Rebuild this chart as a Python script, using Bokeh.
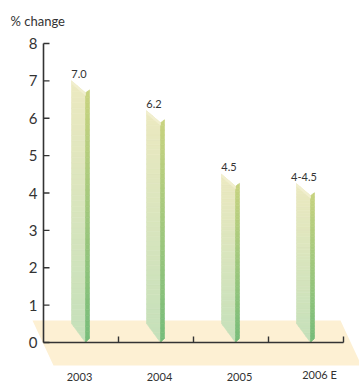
import numpy as np
from bokeh.plotting import figure
from bokeh.models import ColumnDataSource
from bokeh.core.properties import value
from bokeh.embed import file_html
from bokeh.resources import INLINE

# ---------------- data ----------------
years = ["2003", "2004", "2005", "2006 E"]
growth = [7.0, 6.2, 4.5, 4.25]
value_labels = ["7.0", "6.2", "4.5", "4-4.5"]
y_ticks = [0, 1, 2, 3, 4, 5, 6, 7, 8]
y_title = "% change"

# ---------------- layout / style ----------------
W, H = 359, 382
AX_X, AX_Y = 43.0, 342.0      # pixel position of the axes origin
PX_X, PX_Y = 75.0, 37.375     # pixels per category / per unit
FONT = "Lato"
TXT = "#333333"

x_range = (-AX_X / PX_X, (W - AX_X) / PX_X)
y_range = (-(H - AX_Y) / PX_Y, AX_Y / PX_Y)

def dx(px):
    return px / PX_X

def dy(px):
    return px / PX_Y

p = figure(width=W, height=H, x_range=x_range, y_range=y_range,
           x_axis_location=None, y_axis_location=None,
           toolbar_location=None, output_backend="svg", min_border=0)
p.grid.visible = False
p.outline_line_color = None
p.background_fill_color = "white"
p.border_fill_color = "white"

n = len(years)

# floor (perspective plane under the bars)
floor_x = [-dx(11), n - dx(3), n + dx(18), dx(10)]
floor_y = [dy(22), dy(22), -dy(23), -dy(23)]
p.patch(floor_x, floor_y, fill_color="#fdf0d3", line_color=None)


def clip(poly, lo, hi):
    def clip_half(pts, keep, inter):
        out = []
        m = len(pts)
        for k in range(m):
            a = pts[k]
            b = pts[(k + 1) % m]
            ka, kb = keep(a), keep(b)
            if ka:
                out.append(a)
            if ka != kb:
                out.append(inter(a, b))
        return out

    def ix(a, b, yy):
        t = (yy - a[1]) / (b[1] - a[1])
        return (a[0] + t * (b[0] - a[0]), yy)

    pts = clip_half(poly, lambda q: q[1] >= lo, lambda a, b: ix(a, b, lo))
    if not pts:
        return pts
    pts = clip_half(pts, lambda q: q[1] <= hi, lambda a, b: ix(a, b, hi))
    return pts


def mix(c0, c1, t):
    t = min(max(t, 0.0), 1.0)
    r = [int(round(c0[i] + (c1[i] - c0[i]) * t)) for i in range(3)]
    return "#%02x%02x%02x" % tuple(r)


LIGHT_BOT, LIGHT_TOP = (196, 224, 186), (236, 233, 192)
DARK_BOT, DARK_TOP = (118, 188, 122), (204, 212, 128)

xs, ys, cols = [], [], []
NS = 48
for i, v in enumerate(growth):
    c = i + 0.5
    L, M, R = c - dx(9.5), c + dx(4.5), c + dx(8.5)
    light = [(L, v), (M, v - dy(12)), (M, 0.0), (L, dy(19))]
    dark = [(M, v - dy(12)), (R, v - dy(9)), (R, dy(4)), (M, 0.0)]
    for poly, cb, ct in ((light, LIGHT_BOT, LIGHT_TOP), (dark, DARK_BOT, DARK_TOP)):
        for k in range(NS):
            lo = v * k / NS
            hi = v * (k + 1) / NS
            pc = clip(poly, lo, hi)
            if len(pc) < 3:
                continue
            xs.append([q[0] for q in pc])
            ys.append([q[1] for q in pc])
            cols.append(mix(cb, ct, (lo + hi) / 2 / v))
    # thin lighter top edge
    xs.append([L, M, M, L])
    ys.append([v, v - dy(12), v - dy(14.5), v - dy(2.5)])
    cols.append("#f1efcf")

src = ColumnDataSource(dict(xs=xs, ys=ys, c=cols))
p.patches("xs", "ys", source=src, fill_color="c", line_color="c", line_width=0.6)

# axes lines and ticks
p.segment(x0=[0.0], y0=[0.0], x1=[0.0], y1=[max(y_ticks)], line_color=TXT, line_width=1.6)
p.segment(x0=[0.0], y0=[0.0], x1=[float(n)], y1=[0.0], line_color=TXT, line_width=1.6)
p.segment(x0=[0.0] * len(y_ticks), y0=y_ticks, x1=[dx(6)] * len(y_ticks), y1=y_ticks,
          line_color=TXT, line_width=1.4)
xt = [float(k) for k in range(1, n + 1)]
p.segment(x0=xt, y0=[0.0] * n, x1=xt, y1=[dy(6)] * n, line_color=TXT, line_width=1.4)

# y tick labels
p.text(x=[-dx(6)] * len(y_ticks), y=y_ticks, text=[str(t) for t in y_ticks],
       text_font=value(FONT), text_font_size="15px", text_color=TXT,
       text_align="right", text_baseline="middle")

# y title
p.text(x=[-dx(33)], y=[max(y_ticks) + dy(23)], text=[y_title],
       text_font=value(FONT), text_font_size="13px", text_color=TXT,
       text_align="left", text_baseline="middle")

# value labels
p.text(x=[i + 0.5 - dx(2) for i in range(n)], y=growth, text=value_labels,
       text_font=value(FONT), text_font_size="11px", text_color=TXT,
       text_align="center", text_baseline="bottom", y_offset=-3)

# category labels (spread slightly by perspective)
lab_x = [(i + 0.5) * 16.0 / 15.0 - dx(4) for i in range(n)]
p.text(x=lab_x, y=[-dy(38)] * n, text=years,
       text_font=value(FONT), text_font_size="11px", text_color=TXT,
       text_align="center", text_baseline="bottom")

open("out.html", "w").write(file_html(p, INLINE))
